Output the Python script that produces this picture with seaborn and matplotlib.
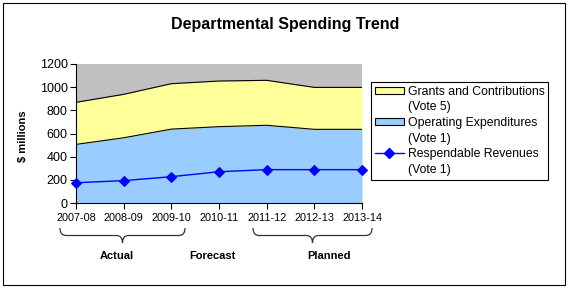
import numpy as np
import pandas as pd
import matplotlib
matplotlib.use("Agg")
import matplotlib.pyplot as plt
import seaborn as sns
from matplotlib.path import Path
from matplotlib.patches import PathPatch, Rectangle, Patch
from matplotlib.lines import Line2D

years = ["2007-08", "2008-09", "2009-10", "2010-11", "2011-12", "2012-13", "2013-14"]
operating = [506, 563, 638, 659, 671, 636, 636]
grants = [363, 375, 392, 394, 388, 362, 362]
respendable = [175, 193, 227, 270, 288, 288, 288]

df = pd.DataFrame({"year": years, "operating": operating, "grants": grants,
                   "respendable": respendable})
df["x"] = range(len(df))
df["total"] = df["operating"] + df["grants"]

sns.set_style("white")
plt.rcParams["font.family"] = ["Liberation Sans", "DejaVu Sans"]
plt.rcParams["text.color"] = "black"
plt.rcParams["axes.labelcolor"] = "black"
plt.rcParams["xtick.color"] = "black"
plt.rcParams["ytick.color"] = "black"

W, H = 568, 292
fig = plt.figure(figsize=(W / 100, H / 100), dpi=100)


def fx(px):
    return px / W


def fy(py):
    return 1 - py / H


ax = fig.add_axes([fx(76), fy(203), fx(362) - fx(76), fy(64) - fy(203)])
ax.set_facecolor("#C0C0C0")

# stacked areas
ax.fill_between(df["x"], 0, df["operating"], color="#99CCFF", lw=0)
ax.fill_between(df["x"], df["operating"], df["total"], color="#FFFF99", lw=0)
ax.plot(df["x"], df["operating"], color="black", lw=0.8)
ax.plot(df["x"], df["total"], color="black", lw=0.8)
sns.lineplot(data=df, x="x", y="respendable", ax=ax, color="#0000FF", lw=1,
             marker="D", markersize=5.5, markeredgecolor="#0000FF", clip_on=False,
             zorder=5)

ax.set_xlim(0, len(years) - 1)
ax.set_ylim(0, 1200)
ax.set_yticks(range(0, 1201, 200))
ax.set_xticks(df["x"])
ax.set_xticklabels(years, fontsize=7.8)
ax.tick_params(axis="y", labelsize=9, length=4, width=0.8, color="black",
               direction="out", left=True, pad=2)
ax.tick_params(axis="x", length=4, width=0.8, color="black", direction="out",
               bottom=True, pad=3)
for s in ["top", "right"]:
    ax.spines[s].set_visible(False)
for s in ["left", "bottom"]:
    ax.spines[s].set_color("black")
    ax.spines[s].set_linewidth(0.8)
ax.set_xlabel("")
ax.set_ylabel("")
fig.text(fx(23), fy(136), "$ millions", rotation=90, ha="center", va="center",
         fontsize=8, fontweight="bold")

fig.text(fx(285), fy(24), "Departmental Spending Trend", ha="center",
         va="center", fontsize=11.5, fontweight="bold")

blank = Patch(facecolor="none", edgecolor="none")
handles = [
    Patch(facecolor="#FFFF99", edgecolor="black", lw=0.8), blank,
    Patch(facecolor="#99CCFF", edgecolor="black", lw=0.8), blank,
    Line2D([], [], color="#0000FF", lw=1, marker="D", markersize=5), blank,
]
labels = ["Grants and Contributions", "(Vote 5)",
          "Operating Expenditures", "(Vote 1)",
          "Respendable Revenues", "(Vote 1)"]
leg = fig.legend(handles, labels, loc="upper left",
                 bbox_to_anchor=(fx(371), fy(82)), fontsize=8.8,
                 frameon=True, fancybox=False, framealpha=1,
                 edgecolor="black", borderpad=0.3, labelspacing=0.3,
                 handlelength=2.4, handleheight=0.5, handletextpad=0.3,
                 borderaxespad=0)
leg.get_frame().set_linewidth(0.8)


def brace(x0, x1, ytop, ybot):
    xc = (x0 + x1) / 2
    ym = (ytop + ybot) / 2
    r = 6
    verts = [
        (x0, ytop), (x0, ym), (x0 + r, ym),
        (xc - r, ym), (xc, ym), (xc, ybot),
        (xc, ym), (xc + r, ym),
        (x1 - r, ym), (x1, ym), (x1, ytop),
    ]
    codes = [Path.MOVETO, Path.CURVE3, Path.CURVE3,
             Path.LINETO, Path.CURVE3, Path.CURVE3,
             Path.CURVE3, Path.CURVE3,
             Path.LINETO, Path.CURVE3, Path.CURVE3]
    v = [(fx(a), fy(b)) for a, b in verts]
    fig.add_artist(PathPatch(Path(v, codes), transform=fig.transFigure,
                             fill=False, edgecolor="#333333", lw=0.9))


brace(60, 185, 228, 243)
brace(253, 372, 228, 243)

for lbl, px in [("Actual", 117), ("Forecast", 212), ("Planned", 329)]:
    fig.text(fx(px), fy(256), lbl, ha="center", va="center", fontsize=8,
             fontweight="bold")

fig.add_artist(Rectangle((fx(3), fy(285)), fx(565) - fx(3), fy(3) - fy(285),
                         transform=fig.transFigure, fill=False,
                         edgecolor="black", lw=0.8))

fig.savefig("out.png", dpi=100)
